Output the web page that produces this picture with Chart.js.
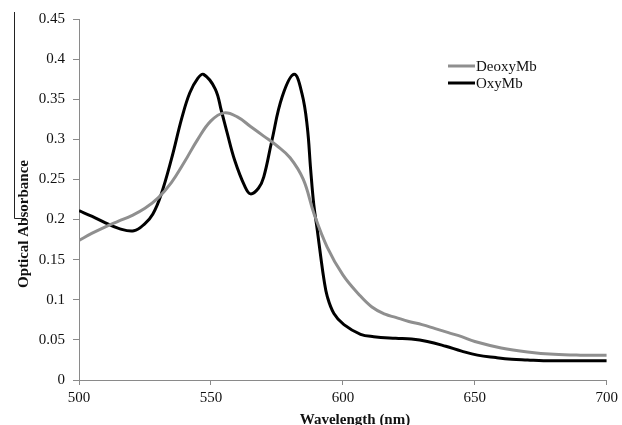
<!DOCTYPE html>
<html>
<head>
<meta charset="utf-8">
<script src="https://cdn.jsdelivr.net/npm/chart.js@4/dist/chart.umd.min.js"></script>
<style>
  html, body { margin: 0; padding: 0; background: #fff; }
  #wrap { width: 622px; height: 425px; position: relative; }
</style>
</head>
<body>
<div id="wrap"><canvas id="chart"></canvas></div>
<script>
"use strict";

// Spectra (wavelength in nm, absorbance)
const deoxyWl = [500, 505, 510, 515, 520, 525, 530, 535, 540, 545, 550, 555, 560, 565, 570, 575, 580, 585, 589, 594, 600, 606, 611, 616, 620, 625, 630, 635, 640, 645, 650, 660, 670, 680, 690, 700];
const deoxyAbs = [0.174, 0.183, 0.191, 0.198, 0.205, 0.214, 0.227, 0.246, 0.272, 0.3, 0.323, 0.333, 0.328, 0.316, 0.304, 0.292, 0.277, 0.25, 0.208, 0.166, 0.131, 0.107, 0.091, 0.082, 0.078, 0.073, 0.069, 0.064, 0.059, 0.054, 0.048, 0.04, 0.035, 0.032, 0.031, 0.031];

const oxyWl = [500, 505, 510, 515, 520.8, 525, 528, 531, 535, 539, 542, 545, 547.2, 551.6, 554, 556, 559, 562.9, 565, 568, 570, 573, 577, 581.5, 584.5, 586.5, 587.8, 589, 590.3, 591.6, 592.8, 594.1, 596.6, 600.4, 606.7, 611.7, 620, 626, 632, 639, 645, 651, 658, 664, 670, 676, 688, 700];
const oxyAbs = [0.211, 0.204, 0.196, 0.189, 0.186, 0.195, 0.207, 0.23, 0.275, 0.327, 0.358, 0.376, 0.381, 0.363, 0.335, 0.31, 0.274, 0.241, 0.232, 0.239, 0.253, 0.297, 0.353, 0.381, 0.357, 0.316, 0.262, 0.218, 0.187, 0.154, 0.126, 0.104, 0.083, 0.069, 0.057, 0.054, 0.052, 0.051, 0.048, 0.042, 0.036, 0.031, 0.028, 0.026, 0.025, 0.024, 0.024, 0.024];

const seriesLabels = ["DeoxyMb", "OxyMb"];
const seriesColors = ["#8f8f8f", "#000000"];

const xTicks = [500, 550, 600, 650, 700];
const yTicks = [0, 0.05, 0.1, 0.15, 0.2, 0.25, 0.3, 0.35, 0.4, 0.45];

const serif = "'Liberation Serif', 'Times New Roman', serif";

function toPoints(xs, ys) {
    return xs.map((x, i) => ({ x: x, y: ys[i] }));
}

// Draw the legend and axis titles where the original figure has them
const decorations = {
    id: "decorations",
    afterDraw(chart) {
        const ctx = chart.ctx;
        ctx.save();

        // legend
        const lx = 448, ly = [66, 83];
        chart.data.datasets.forEach((ds, i) => {
            ctx.strokeStyle = ds.borderColor;
            ctx.lineWidth = 3;
            ctx.beginPath();
            ctx.moveTo(lx, ly[i]);
            ctx.lineTo(lx + 27, ly[i]);
            ctx.stroke();
            ctx.fillStyle = "#111";
            ctx.font = "15px " + serif;
            ctx.textAlign = "left";
            ctx.textBaseline = "middle";
            ctx.fillText(ds.label, lx + 28, ly[i] + 1);
        });

        // y title
        ctx.fillStyle = "#111";
        ctx.font = "bold 15px " + serif;
        ctx.textAlign = "center";
        ctx.textBaseline = "middle";
        ctx.translate(24, 224);
        ctx.rotate(-Math.PI / 2);
        ctx.fillText("Optical Absorbance", 0, 0);
        ctx.setTransform(1, 0, 0, 1, 0, 0);

        // leftover border line from the original figure
        ctx.strokeStyle = "#222";
        ctx.lineWidth = 1;
        ctx.beginPath();
        ctx.moveTo(14.5, 12);
        ctx.lineTo(14.5, 218.5);
        ctx.lineTo(26, 218.5);
        ctx.stroke();

        // x title
        ctx.font = "bold 15px " + serif;
        ctx.textAlign = "center";
        ctx.textBaseline = "middle";
        ctx.fillText("Wavelength (nm)", 355, 420);

        ctx.restore();
    }
};

const ctx = document.getElementById("chart").getContext("2d");
new Chart(ctx, {
    type: "line",
    data: {
        datasets: [
            {
                label: seriesLabels[0],
                data: toPoints(deoxyWl, deoxyAbs),
                borderColor: seriesColors[0],
                borderWidth: 3,
                pointRadius: 0,
                tension: 0.4,
                fill: false
            },
            {
                label: seriesLabels[1],
                data: toPoints(oxyWl, oxyAbs),
                borderColor: seriesColors[1],
                borderWidth: 3,
                pointRadius: 0,
                tension: 0.4,
                fill: false
            }
        ]
    },
    options: {
        responsive: true,
        maintainAspectRatio: false,
        animation: false,
        layout: { padding: { left: 0, right: 13, top: 19, bottom: 0 } },
        scales: {
            x: {
                type: "linear",
                min: 500,
                max: 700,
                afterBuildTicks: (axis) => { axis.ticks = xTicks.map(v => ({ value: v })); },
                afterFit: (axis) => { axis.height = 45; },
                grid: {
                    display: true,
                    drawOnChartArea: false,
                    drawTicks: true,
                    tickLength: 5,
                    color: "#8a8a8a",
                    lineWidth: 1
                },
                border: { color: "#8a8a8a", width: 1 },
                ticks: {
                    color: "#111",
                    font: { family: serif, size: 15 },
                    padding: 4,
                    maxRotation: 0
                }
            },
            y: {
                min: 0,
                max: 0.45,
                afterBuildTicks: (axis) => { axis.ticks = yTicks.map(v => ({ value: v })); },
                afterFit: (axis) => { axis.width = 79; },
                grid: {
                    display: true,
                    drawOnChartArea: false,
                    drawTicks: true,
                    tickLength: 6,
                    color: "#8a8a8a",
                    lineWidth: 1
                },
                border: { color: "#8a8a8a", width: 1 },
                ticks: {
                    color: "#111",
                    font: { family: serif, size: 15 },
                    padding: 8,
                    callback: (v) => String(Math.round(v * 100) / 100)
                }
            }
        },
        plugins: {
            legend: { display: false },
            tooltip: { enabled: false },
            title: { display: false }
        }
    },
    plugins: [decorations]
});
</script>
</body>
</html>
